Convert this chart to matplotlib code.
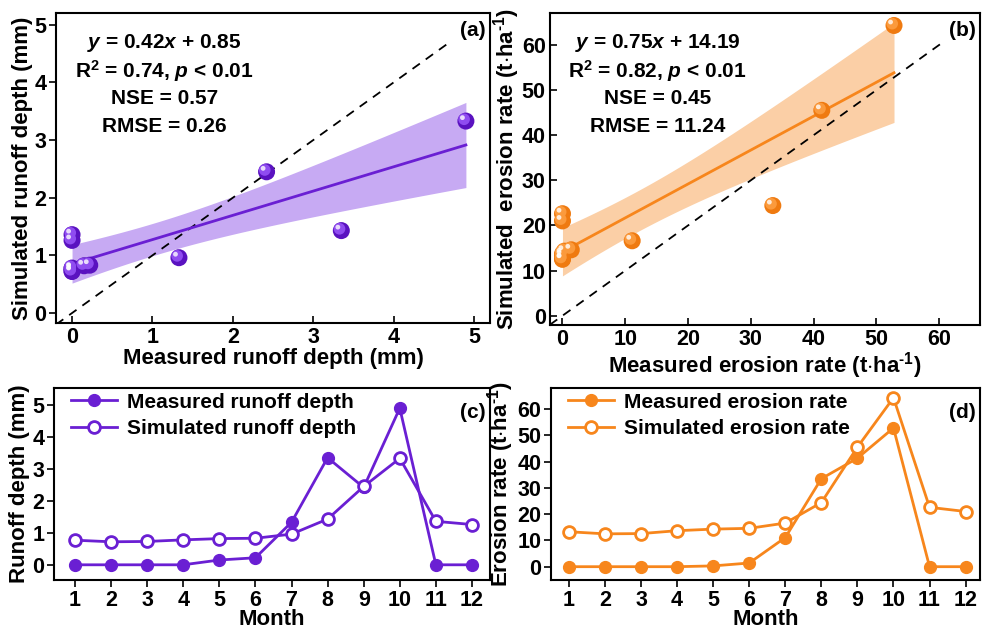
import numpy as np
import matplotlib
matplotlib.use('Agg')
import matplotlib.pyplot as plt
from matplotlib.transforms import offset_copy

plt.rcParams['font.family'] = ['Liberation Sans', 'DejaVu Sans']
plt.rcParams['font.weight'] = 'bold'
plt.rcParams['axes.labelweight'] = 'bold'
plt.rcParams['mathtext.fontset'] = 'custom'
plt.rcParams['mathtext.rm'] = 'Liberation Sans:weight=bold'
plt.rcParams['mathtext.bf'] = 'Liberation Sans:weight=bold'
plt.rcParams['mathtext.it'] = 'Liberation Sans:style=italic:weight=bold'
plt.rcParams['axes.linewidth'] = 1.5

# data
months = np.arange(1, 13)
runoff_measured = [0, 0, 0, 0, 0.15, 0.22, 1.33, 3.35, 2.42, 4.9, 0, 0]
runoff_simulated = [0.77, 0.72, 0.73, 0.78, 0.82, 0.83, 0.96, 1.43, 2.45, 3.33, 1.36, 1.26]
erosion_measured = [0, 0, 0, 0, 0.3, 1.4, 11.1, 33.5, 41.3, 52.8, 0, 0]
erosion_simulated = [13.3, 12.5, 12.6, 13.7, 14.3, 14.6, 16.6, 24.4, 45.5, 64.3, 22.6, 21.0]

stats_a = [r'$y$ = 0.42$x$ + 0.85', r'R$^2$ = 0.74, $p$ < 0.01', 'NSE = 0.57', 'RMSE = 0.26']
stats_b = [r'$y$ = 0.75$x$ + 14.19', r'R$^2$ = 0.82, $p$ < 0.01', 'NSE = 0.45', 'RMSE = 11.24']

UNIT = r'(t$\cdot$ha$^{\text{-1}}$)'

PURPLE = '#6a1fd3'
PURPLE_DARK = '#5a12c0'
PURPLE_BAND = '#c7aaf3'
ORANGE = '#f7861c'
ORANGE_DARK = '#ef7a10'
ORANGE_BAND = '#fbcfa6'

TICK_FS = 15.5
LABEL_FS = 16
TEXT_FS = 15


def fit_with_ci(x, y, n_pts=100):
    """Least squares fit with 95% confidence band."""
    x = np.asarray(x, float)
    y = np.asarray(y, float)
    n = len(x)
    slope, intercept = np.polyfit(x, y, 1)
    resid = y - (slope * x + intercept)
    s = np.sqrt(np.sum(resid ** 2) / (n - 2))
    xs = np.linspace(x.min(), x.max(), n_pts)
    ys = slope * xs + intercept
    t = 2.228  # t(0.975, df=10)
    se = s * np.sqrt(1.0 / n + (xs - x.mean()) ** 2 / np.sum((x - x.mean()) ** 2))
    return xs, ys, ys - t * se, ys + t * se


def sphere_scatter(fig, ax, x, y, dark, mid):
    ax.scatter(x, y, s=150, color=dark, edgecolors='none', zorder=5)
    hl = offset_copy(ax.transData, fig=fig, x=-1.3, y=1.3, units='points')
    ax.scatter(x, y, s=70, color=mid, edgecolors='none', zorder=6, transform=hl)
    hl2 = offset_copy(ax.transData, fig=fig, x=-2.5, y=2.5, units='points')
    ax.scatter(x, y, s=12, color='white', alpha=0.8, edgecolors='none', zorder=7, transform=hl2)


def scatter_panel(fig, ax, xm, ys, color, band, dark, mid, one_to_one_end, stats):
    xs, yfit, lo, hi = fit_with_ci(xm, ys)
    ax.fill_between(xs, lo, hi, color=band, lw=0, zorder=1)
    ax.plot(xs, yfit, color=color, lw=2, zorder=3)
    lo_lim = ax.get_xlim()[0]
    ax.plot([lo_lim, one_to_one_end], [lo_lim, one_to_one_end], 'k--', lw=1.3,
            dashes=(5, 4), zorder=2)
    sphere_scatter(fig, ax, xm, ys, dark, mid)
    for i, line in enumerate(stats):
        ax.text(0.25, 0.905 - i * 0.09, line, transform=ax.transAxes,
                ha='center', va='center', fontsize=TEXT_FS, fontweight='bold')


fig = plt.figure(figsize=(9.82, 6.33), dpi=100)
ax_a = fig.add_axes([0.057, 0.490, 0.442, 0.489])
ax_b = fig.add_axes([0.560, 0.487, 0.438, 0.492])
ax_c = fig.add_axes([0.055, 0.084, 0.444, 0.303])
ax_d = fig.add_axes([0.561, 0.084, 0.437, 0.303])

# (a)
ax_a.set_xlim(-0.2, 5.2)
ax_a.set_ylim(-0.17, 5.2)
scatter_panel(fig, ax_a, runoff_measured, runoff_simulated, PURPLE, PURPLE_BAND,
              PURPLE_DARK, '#8f4cf0', 4.7, stats_a)
ax_a.set_xticks(range(0, 6))
ax_a.set_yticks(range(0, 6))
ax_a.tick_params(axis='x', direction='in', labelsize=TICK_FS, length=5, width=1.2, pad=3)
ax_a.tick_params(axis='y', direction='out', labelsize=TICK_FS, length=5, width=1.2, pad=2)
ax_a.set_xlabel('Measured runoff depth (mm)', fontsize=LABEL_FS, labelpad=0)
ax_a.set_ylabel('Simulated runoff depth (mm)', fontsize=LABEL_FS, labelpad=1)
ax_a.text(0.99, 0.945, '(a)', transform=ax_a.transAxes, ha='right', va='center',
          fontsize=TEXT_FS, fontweight='bold')

# (b)
ax_b.set_xlim(-2, 66.5)
ax_b.set_ylim(-2, 67)
scatter_panel(fig, ax_b, erosion_measured, erosion_simulated, ORANGE, ORANGE_BAND,
              ORANGE_DARK, '#fb9a3c', 60.5, stats_b)
ax_b.set_xticks(range(0, 61, 10))
ax_b.set_yticks(range(0, 61, 10))
ax_b.tick_params(direction='in', labelsize=TICK_FS, length=5, width=1.2, pad=3)
ax_b.set_xlabel('Measured erosion rate ' + UNIT, fontsize=LABEL_FS, labelpad=0)
ax_b.set_ylabel('Simulated  erosion rate ' + UNIT, fontsize=LABEL_FS, labelpad=0)
ax_b.text(0.99, 0.945, '(b)', transform=ax_b.transAxes, ha='right', va='center',
          fontsize=TEXT_FS, fontweight='bold')

# (c)
ax_c.plot(months, runoff_measured, '-o', color=PURPLE, lw=2, ms=8.5,
          mfc=PURPLE, mec=PURPLE, label='Measured runoff depth')
ax_c.plot(months, runoff_simulated, '-o', color=PURPLE, lw=2, ms=8.5, mew=2,
          mfc='white', mec=PURPLE, label='Simulated runoff depth')
ax_c.set_xlim(0.42, 12.5)
ax_c.set_ylim(-0.47, 5.53)
ax_c.set_xticks(months)
ax_c.set_yticks(range(0, 6))
ax_c.tick_params(direction='out', labelsize=TICK_FS, length=5, width=1.2, pad=2)
ax_c.set_xlabel('Month', fontsize=LABEL_FS, labelpad=-1)
ax_c.set_ylabel('Runoff depth (mm)', fontsize=LABEL_FS, labelpad=2)
ax_c.legend(loc='upper left', frameon=False, fontsize=TEXT_FS, handlelength=2.2,
            borderaxespad=0.1, labelspacing=0.35, handletextpad=0.5,
            bbox_to_anchor=(0.015, 1.03))
ax_c.text(0.99, 0.87, '(c)', transform=ax_c.transAxes, ha='right', va='center',
          fontsize=TEXT_FS, fontweight='bold')

# (d)
ax_d.plot(months, erosion_measured, '-o', color=ORANGE, lw=2, ms=8.5,
          mfc=ORANGE, mec=ORANGE, label='Measured erosion rate')
ax_d.plot(months, erosion_simulated, '-o', color=ORANGE, lw=2, ms=8.5, mew=2,
          mfc='white', mec=ORANGE, label='Simulated erosion rate')
ax_d.set_xlim(0.5, 12.4)
ax_d.set_ylim(-5, 68)
ax_d.set_xticks(months)
ax_d.set_yticks(range(0, 61, 10))
ax_d.tick_params(direction='out', labelsize=TICK_FS, length=5, width=1.2, pad=2)
ax_d.set_xlabel('Month', fontsize=LABEL_FS, labelpad=-1)
ax_d.set_ylabel('Erosion rate ' + UNIT, fontsize=LABEL_FS, labelpad=1)
ax_d.legend(loc='upper left', frameon=False, fontsize=TEXT_FS, handlelength=2.2,
            borderaxespad=0.1, labelspacing=0.35, handletextpad=0.5,
            bbox_to_anchor=(0.015, 1.03))
ax_d.text(0.99, 0.87, '(d)', transform=ax_d.transAxes, ha='right', va='center',
          fontsize=TEXT_FS, fontweight='bold')

fig.savefig('out.png', dpi=100)
